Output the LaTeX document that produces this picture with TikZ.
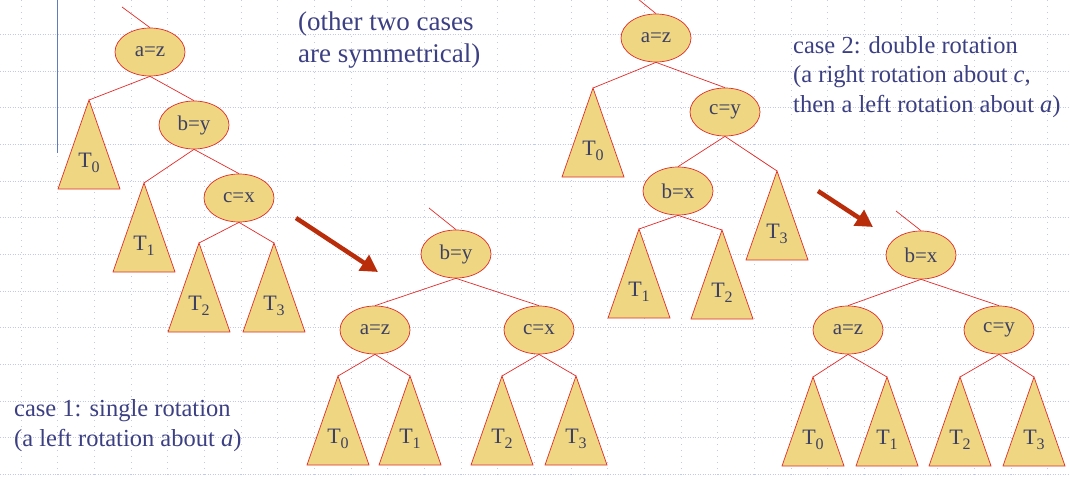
\documentclass[tikz,border=0pt]{standalone}
\usepackage{fontspec}
\setmainfont{Liberation Serif}
\usetikzlibrary{shapes.geometric,arrows.meta}

\definecolor{treegold}{RGB}{238,214,130}
\definecolor{treered}{RGB}{226,44,40}
\definecolor{txtblue}{RGB}{60,64,130}
\definecolor{lblgray}{RGB}{62,64,98}
\definecolor{gridblue}{RGB}{192,202,236}
\definecolor{barblue}{RGB}{100,122,192}
\definecolor{arrowred}{RGB}{185,45,10}

% subtree: name, apex, index
\newcommand{\subtree}[3]{%
  \coordinate (#1) at (#2);
  \filldraw[subtree] (#1) -- ++(-31,89) -- ++(62,0) -- cycle;
  \node[tlabel] (#1l) at ([yshift=-67pt]#1)
    {T\raisebox{-5pt}{\fontsize{16}{16}\selectfont #3}};
}

\begin{document}
\begin{tikzpicture}[x=1pt,y=-1pt,
  key/.style={ellipse,draw=treered,fill=treegold,line width=0.7pt,
    minimum width=70pt,minimum height=48pt,inner sep=0pt,
    font=\fontsize{21}{24}\selectfont,text=lblgray},
  subtree/.style={draw=treered,fill=treegold,line width=0.7pt},
  tlabel/.style={font=\fontsize{22}{24}\selectfont,text=lblgray,
    inner sep=0pt,anchor=base},
  link/.style={treered,line width=0.7pt},
  turn/.style={arrowred,line width=4.5pt,-{Triangle[length=17pt,width=18pt]}},
  caption/.style={text=txtblue,align=left,anchor=base west,inner sep=0pt},
  hgrid/.style={gridblue,line width=0.8pt,dash pattern=on 1.2pt off 1.3pt},
  vgrid/.style={gridblue,line width=0.8pt,dash pattern=on 1.2pt off 4.8pt}]
    % background
    \fill[white] (0,0) rectangle (1070,479);
    \useasboundingbox (0,0) rectangle (1070,479);
    \foreach \k in {1,...,13}
      \draw[hgrid] (0,{-2.3+36.67*\k}) -- (1070,{-2.3+36.67*\k});
    \foreach \k in {0,...,28}
      \draw[vgrid] ({21+36.67*\k},0) -- ({21+36.67*\k},479);
    \draw[barblue,line width=1pt] (57.3,0) -- (57.3,153);

    % case 1, before
    \coordinate (t1top) at (122,7);
    \node[key] (t1a) at (150,52) {a=z};
    \node[key] (t1b) at (194,125) {b=y};
    \node[key] (t1c) at (239,198) {c=x};
    \subtree{t1T0}{89,100}{0}
    \subtree{t1T1}{144,183}{1}
    \subtree{t1T2}{199,243}{2}
    \subtree{t1T3}{274,243}{3}
    \draw[link] (t1top) -- (t1a.north);
    \draw[link] (t1a.south) -- (t1T0);
    \draw[link] (t1a.south) -- (t1b.north);
    \draw[link] (t1b.south) -- (t1T1);
    \draw[link] (t1b.south) -- (t1c.north);
    \draw[link] (t1c.south) -- (t1T2);
    \draw[link] (t1c.south) -- (t1T3);

    % case 1, after
    \coordinate (t3top) at (429,208);
    \node[key] (t3b) at (456,254) {b=y};
    \node[key] (t3a) at (375,330) {a=z};
    \node[key] (t3c) at (539,330) {c=x};
    \subtree{t3T0}{338,376}{0}
    \subtree{t3T1}{410,376}{1}
    \subtree{t3T2}{502,376}{2}
    \subtree{t3T3}{576,376}{3}
    \draw[link] (t3top) -- (t3b.north);
    \draw[link] (t3b.south) -- (t3a.north);
    \draw[link] (t3b.south) -- (t3c.north);
    \draw[link] (t3a.south) -- (t3T0);
    \draw[link] (t3a.south) -- (t3T1);
    \draw[link] (t3c.south) -- (t3T2);
    \draw[link] (t3c.south) -- (t3T3);

    % case 2, before
    \coordinate (t2top) at (638,-1);
    \node[key] (t2a) at (656,38) {a=z};
    \node[key] (t2c) at (725,112) {c=y};
    \node[key] (t2b) at (678,191) {b=x};
    \subtree{t2T0}{593,88}{0}
    \subtree{t2T3}{777,171}{3}
    \subtree{t2T1}{639,229}{1}
    \subtree{t2T2}{722,230}{2}
    \draw[link] (t2top) -- (t2a.north);
    \draw[link] (t2a.south) -- (t2T0);
    \draw[link] (t2a.south) -- (t2c.north);
    \draw[link] (t2c.south) -- (t2b.north);
    \draw[link] (t2c.south) -- (t2T3);
    \draw[link] (t2b.south) -- (t2T1);
    \draw[link] (t2b.south) -- (t2T2);

    % case 2, after
    \coordinate (t4top) at (896,211);
    \node[key] (t4b) at (921,255) {b=x};
    \node[key] (t4a) at (848,330) {a=z};
    \node[key] (t4c) at (999,330) {c=y};
    \subtree{t4T0}{813,377}{0}
    \subtree{t4T1}{887,377}{1}
    \subtree{t4T2}{960,377}{2}
    \subtree{t4T3}{1034,377}{3}
    \draw[link] (t4top) -- (t4b.north);
    \draw[link] (t4b.south) -- (t4a.north);
    \draw[link] (t4b.south) -- (t4c.north);
    \draw[link] (t4a.south) -- (t4T0);
    \draw[link] (t4a.south) -- (t4T1);
    \draw[link] (t4c.south) -- (t4T2);
    \draw[link] (t4c.south) -- (t4T3);

    % arrows
    \coordinate (arr1s) at (296,218);
    \coordinate (arr1e) at (378,272);
    \coordinate (arr2s) at (818,191);
    \coordinate (arr2e) at (873,227);
    \draw[turn] (arr1s) -- (arr1e);
    \draw[turn] (arr2s) -- (arr2e);

    % captions (anchored at the last line)
    \node[caption,font=\fontsize{27}{31.5}\selectfont] (note) at (298,62)
      {(other two cases\\are symmetrical)};
    \node[caption,font=\fontsize{24.5}{29.5}\selectfont] (case2) at (793,112)
      {case 2: double rotation\\(a right rotation about \textit{c},\\then a left rotation about \textit{a})};
    \node[caption,font=\fontsize{24.5}{29.5}\selectfont] (case1) at (14,446)
      {case 1: single rotation\\(a left rotation about \textit{a})};
\end{tikzpicture}
\end{document}
